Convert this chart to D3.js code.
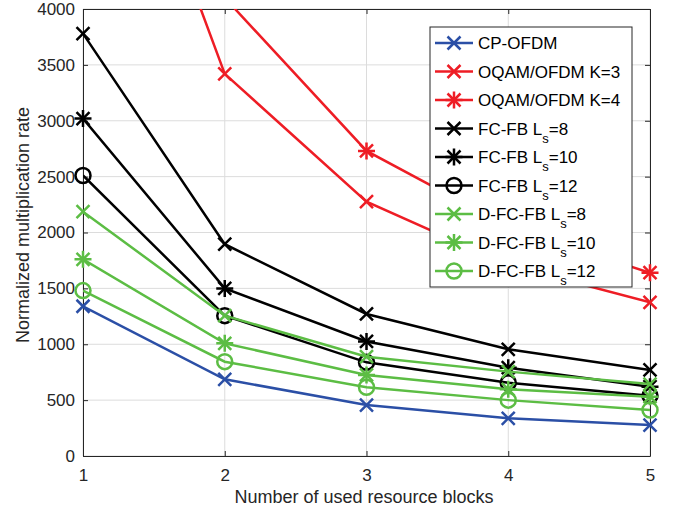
<!DOCTYPE html>
<html>
<head>
<meta charset="utf-8">
<script src="https://cdn.jsdelivr.net/npm/d3@7"></script>
<style>
  body { margin: 0; background: #fff; }
  text { font-family: "Liberation Sans", Arial, sans-serif; }
</style>
</head>
<body>
<svg width="673" height="512"></svg>
<script>
// resource blocks on the x axis
var blocks = [1, 2, 3, 4, 5];

// multiplication rate per series
var cpOfdm   = [1340, 686, 456, 337, 277];
var oqamK3   = [6840, 3420, 2276, 1710, 1375];
var oqamK4   = [8200, 4100, 2730, 2050, 1640];
var fcfb8    = [3780, 1895, 1271, 955, 770];
var fcfb10   = [3020, 1500, 1025, 790, 620];
var fcfb12   = [2510, 1256, 838, 655, 540];
var dfcfb8   = [2186, 1256, 889, 755, 644];
var dfcfb10  = [1760, 1008, 725, 597, 531];
var dfcfb12  = [1480, 844, 615, 500, 412];

var yTicks = [0, 500, 1000, 1500, 2000, 2500, 3000, 3500, 4000];

var blue = "#2b4fa6", red = "#ee1d25", black = "#000", green = "#5cbd44";

var series = [
  {name: "CP-OFDM", sub: null, values: cpOfdm, color: blue, marker: "x"},
  {name: "OQAM/OFDM K=3", sub: null, values: oqamK3, color: red, marker: "x"},
  {name: "OQAM/OFDM K=4", sub: null, values: oqamK4, color: red, marker: "star"},
  {name: "FC-FB L", sub: ["s", "=8"], values: fcfb8, color: black, marker: "x"},
  {name: "FC-FB L", sub: ["s", "=10"], values: fcfb10, color: black, marker: "star"},
  {name: "FC-FB L", sub: ["s", "=12"], values: fcfb12, color: black, marker: "o"},
  {name: "D-FC-FB L", sub: ["s", "=8"], values: dfcfb8, color: green, marker: "x"},
  {name: "D-FC-FB L", sub: ["s", "=10"], values: dfcfb10, color: green, marker: "star"},
  {name: "D-FC-FB L", sub: ["s", "=12"], values: dfcfb12, color: green, marker: "o"}
];

var pLeft = 83, pRight = 650, pTop = 9, pBottom = 456;
var svg = d3.select("svg");

var x = d3.scaleLinear().domain([1, 5]).range([pLeft, pRight]);
var y = d3.scaleLinear().domain([0, 4000]).range([pBottom, pTop]);

// grid
var grid = svg.append("g").attr("stroke", "#dcdcdc").attr("stroke-width", 1);
grid.selectAll(".gx").data(blocks).enter().append("line")
  .attr("x1", d => x(d)).attr("x2", d => x(d)).attr("y1", pTop).attr("y2", pBottom);
grid.selectAll(".gy").data(yTicks).enter().append("line")
  .attr("y1", d => y(d)).attr("y2", d => y(d)).attr("x1", pLeft).attr("x2", pRight);

// axes (MATLAB style, ticks inward, box)
var xAxis = svg.append("g").attr("transform", "translate(0," + pBottom + ")")
  .call(d3.axisBottom(x).tickValues(blocks).tickFormat(d3.format("d")).tickSizeInner(-5).tickSizeOuter(0).tickPadding(13));
var yAxis = svg.append("g").attr("transform", "translate(" + pLeft + ",0)")
  .call(d3.axisLeft(y).tickValues(yTicks).tickFormat(d3.format("d")).tickSizeInner(-5).tickSizeOuter(0).tickPadding(8));
svg.append("g").attr("transform", "translate(0," + pTop + ")")
  .call(d3.axisTop(x).tickValues(blocks).tickFormat("").tickSizeInner(-5).tickSizeOuter(0));
svg.append("g").attr("transform", "translate(" + pRight + ",0)")
  .call(d3.axisRight(y).tickValues(yTicks).tickFormat("").tickSizeInner(-5).tickSizeOuter(0));
[xAxis, yAxis].forEach(function(a) {
  a.attr("font-size", 17).attr("font-family", "Liberation Sans, Arial, sans-serif");
  a.selectAll("text").attr("fill", "#262626");
});
svg.selectAll(".domain, .tick line").attr("stroke", "#262626");

svg.append("text").attr("x", 364).attr("y", 503)
  .attr("text-anchor", "middle").attr("font-size", 18).attr("fill", "#262626")
  .text("Number of used resource blocks");
svg.append("text").attr("transform", "translate(29,225) rotate(-90)")
  .attr("text-anchor", "middle").attr("font-size", 18).attr("fill", "#262626")
  .text("Normalized multiplication rate");

svg.append("clipPath").attr("id", "plotclip").append("rect")
  .attr("x", pLeft).attr("y", pTop).attr("width", pRight - pLeft).attr("height", pBottom - pTop);

var line = d3.line().x((d, i) => x(blocks[i])).y(d => y(d));

function drawMarker(g, type, cx, cy, color) {
  var s = 6.5;
  if (type === "x" || type === "star") {
    g.append("path").attr("d", "M" + (cx - s) + "," + (cy - s) + "L" + (cx + s) + "," + (cy + s) +
        "M" + (cx - s) + "," + (cy + s) + "L" + (cx + s) + "," + (cy - s))
      .attr("stroke", color).attr("stroke-width", 2.5).attr("fill", "none");
  }
  if (type === "star") {
    g.append("path").attr("d", "M" + cx + "," + (cy - 8.5) + "L" + cx + "," + (cy + 8.5) +
        "M" + (cx - 8.5) + "," + cy + "L" + (cx + 8.5) + "," + cy)
      .attr("stroke", color).attr("stroke-width", 2.5).attr("fill", "none");
  }
  if (type === "o") {
    g.append("circle").attr("cx", cx).attr("cy", cy).attr("r", 7.5)
      .attr("stroke", color).attr("stroke-width", 2.5).attr("fill", "none");
  }
}

series.forEach(function(s) {
  var g = svg.append("g");
  g.append("path").datum(s.values).attr("d", line)
    .attr("clip-path", "url(#plotclip)")
    .attr("fill", "none").attr("stroke", s.color).attr("stroke-width", 2.5);
  s.values.forEach(function(v, i) {
    if (v <= 4000) drawMarker(g, s.marker, x(blocks[i]), y(v), s.color);
  });
});

// legend
var lg = svg.append("g");
lg.append("rect").attr("x", 430).attr("y", 27).attr("width", 202).attr("height", 260)
  .attr("fill", "#fff").attr("stroke", "#262626").attr("stroke-width", 1);
series.forEach(function(s, i) {
  var cy = 43 + i * 28.5;
  lg.append("line").attr("x1", 435).attr("x2", 473).attr("y1", cy).attr("y2", cy)
    .attr("stroke", s.color).attr("stroke-width", 2.5);
  drawMarker(lg, s.marker, 454, cy, s.color);
  var t = lg.append("text").attr("x", 478).attr("y", cy + 6).attr("font-size", 17).attr("fill", "#000");
  t.append("tspan").text(s.name);
  if (s.sub) {
    t.append("tspan").attr("dy", 8).attr("font-size", 13).text(s.sub[0]);
    t.append("tspan").attr("dy", -8).text(s.sub[1]);
  }
});
</script>
</body>
</html>
